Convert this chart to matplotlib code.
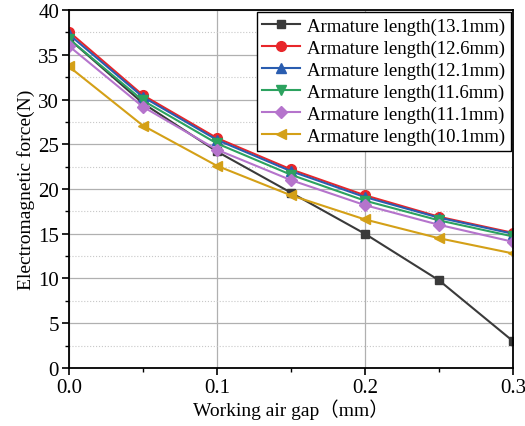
import matplotlib
matplotlib.use("Agg")
import matplotlib.pyplot as plt
from matplotlib.ticker import MultipleLocator, FormatStrFormatter

plt.rcParams['font.family'] = ['Liberation Serif', 'Noto Sans CJK SC']

gap = [0.0, 0.05, 0.1, 0.15, 0.2, 0.25, 0.3]
labels = ["Armature length(13.1mm)", "Armature length(12.6mm)", "Armature length(12.1mm)",
          "Armature length(11.6mm)", "Armature length(11.1mm)", "Armature length(10.1mm)"]
f_131 = [36.8, 29.6, 24.2, 19.6, 15.0, 9.8, 3.0]
f_126 = [37.6, 30.5, 25.7, 22.2, 19.3, 16.9, 15.1]
f_121 = [37.3, 30.3, 25.5, 22.0, 19.1, 16.8, 15.0]
f_116 = [36.8, 29.9, 25.1, 21.6, 18.7, 16.5, 14.7]
f_111 = [36.0, 29.2, 24.4, 21.0, 18.2, 16.0, 14.1]
f_101 = [33.7, 27.1, 22.6, 19.3, 16.6, 14.5, 12.8]
series = [f_131, f_126, f_121, f_116, f_111, f_101]
colors = ['#3a3a3a', '#e8262a', '#2a5db0', '#2ca25f', '#b574cc', '#d4a017']
markers = ['s', 'o', '^', 'v', 'D', '<']
msizes = [6, 7, 7, 7, 6, 7]

fig = plt.figure(figsize=(5.25, 4.27), dpi=100)
ax = fig.add_axes([0.131, 0.136, 0.846, 0.838])

for y, c, m, ms, lab in zip(series, colors, markers, msizes, labels):
    ax.plot(gap, y, color=c, marker=m, markersize=ms, linewidth=1.5, label=lab)

ax.set_xlim(0, 0.3)
ax.set_ylim(0, 40)
ax.xaxis.set_major_locator(MultipleLocator(0.1))
ax.xaxis.set_minor_locator(MultipleLocator(0.05))
ax.yaxis.set_major_locator(MultipleLocator(5))
ax.yaxis.set_minor_locator(MultipleLocator(2.5))
ax.xaxis.set_major_formatter(FormatStrFormatter('%.1f'))
ax.grid(True, which='major', color='#b0b0b0', linewidth=0.9)
ax.grid(True, which='minor', axis='y', color='#c8c8c8', linewidth=0.8, linestyle=':')
ax.set_axisbelow(True)
ax.tick_params(which='both', direction='out', labelsize=15, pad=2)
ax.tick_params(which='major', length=5, width=1.2)
ax.tick_params(which='minor', length=3, width=1.0)
for s in ax.spines.values():
    s.set_linewidth(1.3)
    s.set_color('black')

ax.set_xlabel("Working air gap（mm）", fontsize=14, labelpad=1)
ax.set_ylabel("Electromagnetic force(N)", fontsize=14, labelpad=2)

leg = ax.legend(loc='upper right', fontsize=13.5, frameon=True, fancybox=False,
                edgecolor='black', framealpha=1, borderaxespad=0.1,
                handlelength=2.0, labelspacing=0.25, borderpad=0.3, handletextpad=0.4)
leg.get_frame().set_linewidth(1.0)

fig.savefig("out.png", dpi=100)
